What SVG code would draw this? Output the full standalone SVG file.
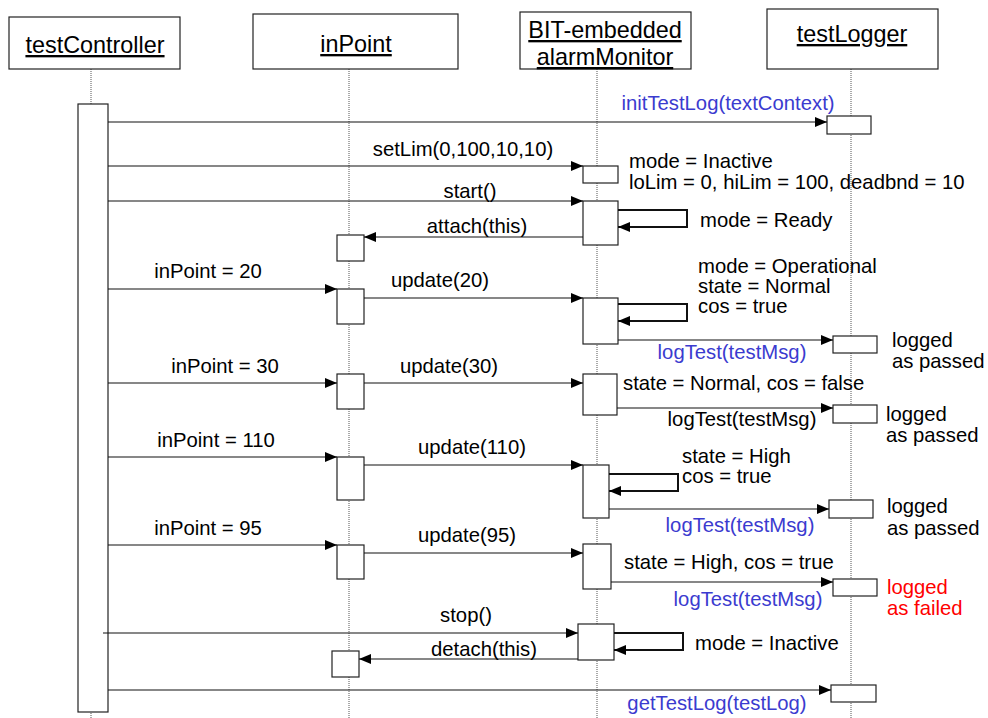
<svg xmlns="http://www.w3.org/2000/svg" width="988" height="718" viewBox="0 0 988 718">
<defs>
<marker id="ah" markerUnits="userSpaceOnUse" markerWidth="12" markerHeight="10" refX="12" refY="5" orient="auto">
<path d="M0,0 L12,5 L0,10 z" fill="#000"/>
</marker>
<style>
text{font-family:"Liberation Sans",Arial,sans-serif;font-size:20.3px;fill:#000}
.hd{font-size:23.4px;text-anchor:middle;text-decoration:underline}
.m{text-anchor:middle}
.b{fill:#3b3bcf}
.r{fill:#ff0000}
.box{fill:#fff;stroke:#222;stroke-width:1.2}
.life{stroke:#555;stroke-width:1;stroke-dasharray:1,1;fill:none}
.msg{stroke:#111;stroke-width:1.2;fill:none;marker-end:url(#ah)}
.self{stroke:#111;stroke-width:2;fill:none;marker-end:url(#ah)}
</style>
</defs>
<rect width="988" height="718" fill="#fff"/>
<g id="lifelines">
<line class="life" x1="91" y1="69" x2="91" y2="718"/>
<line class="life" x1="349" y1="69" x2="349" y2="718"/>
<line class="life" x1="597" y1="69" x2="597" y2="718"/>
<line class="life" x1="851" y1="69" x2="851" y2="718"/>
</g>
<g id="testController">
<rect class="box" x="9" y="17" width="171" height="52"/>
<text class="hd" x="95" y="53">testController</text>
<rect class="box" x="78" y="104" width="30" height="608"/>
</g>
<g id="inPoint">
<rect class="box" x="253" y="14" width="205" height="55"/>
<text class="hd" x="356" y="52">inPoint</text>
<rect class="box" x="337" y="235" width="27" height="26"/>
<rect class="box" x="337" y="289" width="27" height="35"/>
<rect class="box" x="337" y="374" width="27" height="35"/>
<rect class="box" x="337" y="457" width="27" height="43"/>
<rect class="box" x="337" y="545" width="27" height="34"/>
<rect class="box" x="332" y="651" width="27" height="26"/>
</g>
<g id="alarmMonitor">
<rect class="box" x="520" y="12" width="171" height="57"/>
<text class="hd" x="605" y="38">BIT-embedded</text>
<text class="hd" x="605" y="65">alarmMonitor</text>
<rect class="box" x="583" y="166" width="35" height="17"/>
<rect class="box" x="583" y="201" width="35" height="44"/>
<rect class="box" x="583" y="298" width="35" height="46"/>
<rect class="box" x="583" y="374" width="34" height="41"/>
<rect class="box" x="583" y="465" width="26" height="53"/>
<rect class="box" x="583" y="544" width="28" height="45"/>
<rect class="box" x="578" y="624" width="36" height="36"/>
</g>
<g id="testLogger">
<rect class="box" x="767" y="9" width="171" height="60"/>
<text class="hd" x="852" y="42">testLogger</text>
<rect class="box" x="827" y="116" width="44" height="18"/>
<rect class="box" x="833" y="336" width="44" height="17"/>
<rect class="box" x="833" y="405" width="44" height="18"/>
<rect class="box" x="829" y="500" width="44" height="18"/>
<rect class="box" x="833" y="579" width="44" height="17"/>
<rect class="box" x="831" y="685" width="45" height="17"/>
</g>
<g id="connectors">
<line class="msg" x1="108" y1="122" x2="827" y2="122"/>
<line class="msg" x1="108" y1="166" x2="583" y2="166"/>
<line class="msg" x1="108" y1="201" x2="583" y2="201"/>
<path class="self" d="M618,210 H687 V227 H618"/>
<line class="msg" x1="583" y1="237" x2="364" y2="237"/>
<line class="msg" x1="108" y1="289" x2="337" y2="289"/>
<line class="msg" x1="364" y1="298" x2="583" y2="298"/>
<path class="self" d="M618,304 H687 V321 H618"/>
<line class="msg" x1="618" y1="340" x2="833" y2="340"/>
<line class="msg" x1="108" y1="383" x2="337" y2="383"/>
<line class="msg" x1="364" y1="383" x2="583" y2="383"/>
<line class="msg" x1="617" y1="408" x2="833" y2="408"/>
<line class="msg" x1="108" y1="457" x2="337" y2="457"/>
<line class="msg" x1="364" y1="465" x2="583" y2="465"/>
<path class="self" d="M609,474 H678 V491 H609"/>
<line class="msg" x1="609" y1="509" x2="829" y2="509"/>
<line class="msg" x1="108" y1="545" x2="337" y2="545"/>
<line class="msg" x1="364" y1="553" x2="583" y2="553"/>
<line class="msg" x1="611" y1="582" x2="833" y2="582"/>
<line class="msg" x1="103" y1="633" x2="578" y2="633"/>
<path class="self" d="M614,633 H683 V650 H614"/>
<line class="msg" x1="578" y1="659" x2="359" y2="659"/>
<line class="msg" x1="108" y1="690" x2="831" y2="690"/>
</g>
<g id="labels">
<text class="m b" x="728" y="110">initTestLog(textContext)</text>
<text class="m" x="463" y="156">setLim(0,100,10,10)</text>
<text x="629" y="168">mode = Inactive</text>
<text x="629" y="189">loLim = 0, hiLim = 100, deadbnd = 10</text>
<text class="m" x="470" y="198">start()</text>
<text x="700" y="227">mode = Ready</text>
<text class="m" x="477" y="233">attach(this)</text>
<text class="m" x="208" y="278">inPoint = 20</text>
<text class="m" x="440" y="287">update(20)</text>
<text x="698" y="273">mode = Operational</text>
<text x="698" y="293">state = Normal</text>
<text x="698" y="313">cos = true</text>
<text class="m b" x="732" y="359">logTest(testMsg)</text>
<text x="892" y="347">logged</text>
<text x="892" y="368">as passed</text>
<text class="m" x="225" y="373">inPoint = 30</text>
<text class="m" x="449" y="373">update(30)</text>
<text x="623" y="390">state = Normal, cos = false</text>
<text class="m" x="742" y="426">logTest(testMsg)</text>
<text x="886" y="421">logged</text>
<text x="886" y="442">as passed</text>
<text class="m" x="216" y="447">inPoint = 110</text>
<text class="m" x="472" y="454">update(110)</text>
<text x="682" y="463">state = High</text>
<text x="682" y="483">cos = true</text>
<text class="m b" x="740" y="532">logTest(testMsg)</text>
<text x="887" y="513">logged</text>
<text x="887" y="535">as passed</text>
<text class="m" x="208" y="535">inPoint = 95</text>
<text class="m" x="467" y="542">update(95)</text>
<text x="624" y="569">state = High, cos = true</text>
<text class="m b" x="748" y="606">logTest(testMsg)</text>
<text class="r" x="887" y="594">logged</text>
<text class="r" x="887" y="615">as failed</text>
<text class="m" x="466" y="622">stop()</text>
<text x="695" y="650">mode = Inactive</text>
<text class="m" x="484" y="656">detach(this)</text>
<text class="m b" x="717" y="710">getTestLog(testLog)</text>
</g>
</svg>
